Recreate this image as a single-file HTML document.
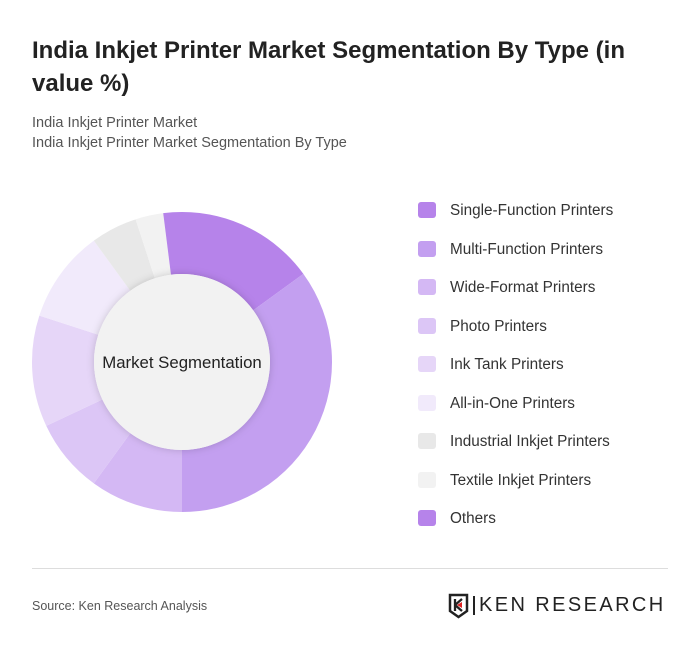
<!DOCTYPE html>
<html><head><meta charset="utf-8"><style>
body{margin:0;background:#fff;font-family:"Liberation Sans",sans-serif;}
#wrap{position:relative;width:700px;height:653px;overflow:hidden;}
h1{position:absolute;left:32px;top:34px;margin:0;width:640px;font-size:24px;line-height:33px;font-weight:bold;color:#222;}
.sub{position:absolute;left:32px;font-size:14.5px;color:#555;}
.leg{position:absolute;left:418px;font-size:15.3px;color:#333;}
.sw{position:absolute;left:0;top:0px;width:18px;height:16px;border-radius:3px;}
.leg span.t{position:absolute;left:32px;top:0;white-space:nowrap;}
</style></head><body>
<div id="wrap">
<h1>India Inkjet Printer Market Segmentation By Type (in value %)</h1>
<div class="sub" style="top:115px">India Inkjet Printer Market</div>
<div class="sub" style="top:135px">India Inkjet Printer Market Segmentation By Type</div>
<svg id="donut" width="700" height="653" style="position:absolute;left:0;top:0">
<defs><filter id="sh" x="-20%" y="-20%" width="140%" height="140%"><feDropShadow dx="0" dy="0" stdDeviation="4" flood-opacity="0.18"/></filter></defs>
<g id="slices"></g>
<circle cx="182" cy="362" r="88" fill="#f2f2f2" filter="url(#sh)"/>
<text x="182" y="368" text-anchor="middle" font-size="16.8" fill="#222" font-family="Liberation Sans, sans-serif">Market Segmentation</text>
</svg>
<div id="legend"></div>
<div style="position:absolute;left:32px;top:568px;width:636px;height:1px;background:#ddd"></div>
<div style="position:absolute;left:32px;top:599px;font-size:12.5px;color:#555">Source: Ken Research Analysis</div>
<div style="position:absolute;left:448px;top:593px;height:26px;">
<svg width="22" height="26" style="position:absolute;left:0;top:0"><path d="M2 2h17v16l-8.5 6L2 18z" fill="none" stroke="#222" stroke-width="2.5"/><path d="M7 6v12M7 12l7-6M7 12l7 6" stroke="#222" stroke-width="2.3" fill="none"/><path d="M9 12l5-3v6z" fill="#d22"/></svg>
<div style="position:absolute;left:25px;top:3px;width:2px;height:19px;background:#222"></div>
<div style="position:absolute;left:31px;top:1px;font-size:20px;letter-spacing:2.4px;color:#222;white-space:nowrap">KEN RESEARCH</div>
</div>
</div>
<script>
const categories=["Single-Function Printers","Multi-Function Printers","Wide-Format Printers","Photo Printers","Ink Tank Printers","All-in-One Printers","Industrial Inkjet Printers","Textile Inkjet Printers","Others"];
const values=[15,35,10,8,12,10,5,3,2];
const colors=["#b683ea","#c39ff0","#d4b8f4","#dcc6f6","#e6d6f8","#f1eafb","#e8e8e8","#f2f2f2","#b683ea"];
const cx=182,cy=362,R=150,r0=88;
const total=values.reduce((a,b)=>a+b,0);
const g=document.getElementById('slices');
function pt(a,rad){return [cx+rad*Math.sin(a),cy-rad*Math.cos(a)];}
let acc=0;
values.forEach((v,i)=>{
 const a0=acc/total*2*Math.PI; acc+=v; const a1=acc/total*2*Math.PI;
 const lg=(a1-a0)>Math.PI?1:0;
 const [x0,y0]=pt(a0,R),[x1,y1]=pt(a1,R),[x2,y2]=pt(a1,r0),[x3,y3]=pt(a0,r0);
 const p=document.createElementNS('http://www.w3.org/2000/svg','path');
 p.setAttribute('d',`M${x0} ${y0}A${R} ${R} 0 ${lg} 1 ${x1} ${y1}L${x2} ${y2}A${r0} ${r0} 0 ${lg} 0 ${x3} ${y3}Z`);
 p.setAttribute('fill',colors[i]);
 
 
 g.appendChild(p);
});
const L=document.getElementById('legend');
categories.forEach((c,i)=>{
 const d=document.createElement('div');
 d.className='leg';
 d.style.top=(202+i*38.5)+'px';
 
 
 d.innerHTML='<div class="sw" style="background:'+colors[i]+'"></div><span class="t">'+c+'</span>';
 L.appendChild(d);
});
</script>
</body></html>
